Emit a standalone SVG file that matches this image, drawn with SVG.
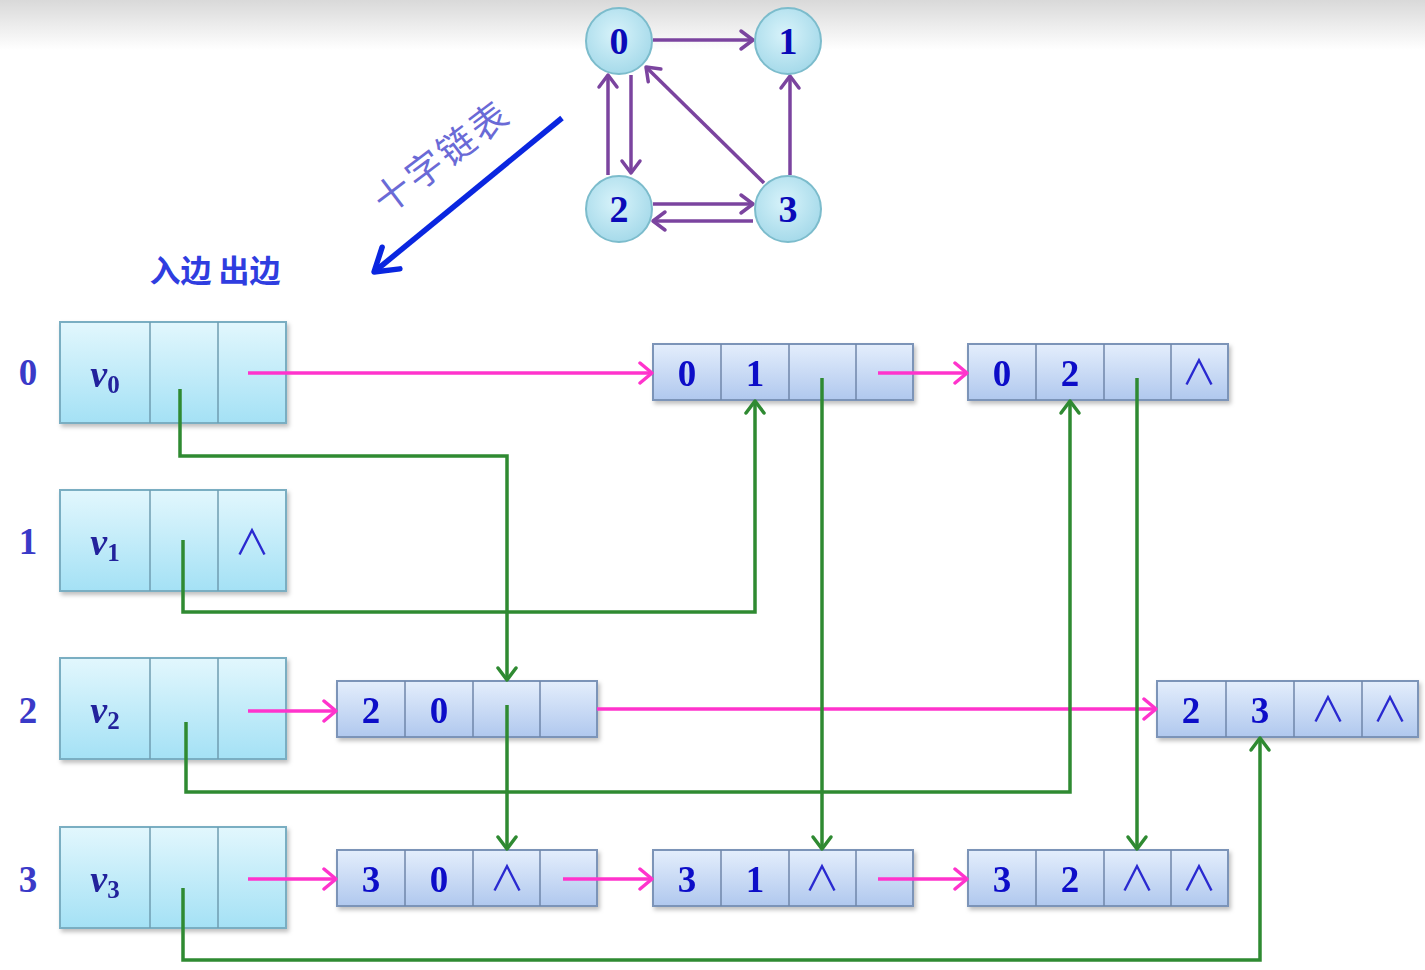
<svg xmlns="http://www.w3.org/2000/svg" width="1425" height="970" viewBox="0 0 1425 970">
<defs>
  <linearGradient id="topBand" x1="0" y1="0" x2="0" y2="1">
    <stop offset="0" stop-color="#d9d9d9"/>
    <stop offset="1" stop-color="#ffffff"/>
  </linearGradient>
  <radialGradient id="circFill" cx="0.45" cy="0.4" r="0.6">
    <stop offset="0" stop-color="#d8f3fa"/>
    <stop offset="1" stop-color="#a6daea"/>
  </radialGradient>
  <linearGradient id="vertFill" x1="0" y1="0" x2="0" y2="1">
    <stop offset="0" stop-color="#e2f7fd"/>
    <stop offset="1" stop-color="#a4e1f5"/>
  </linearGradient>
  <linearGradient id="edgeFill" x1="0" y1="0" x2="0" y2="1">
    <stop offset="0" stop-color="#e4eefc"/>
    <stop offset="1" stop-color="#b0c8ee"/>
  </linearGradient>
  <filter id="shadow" x="-10%" y="-10%" width="125%" height="135%">
    <feDropShadow dx="2" dy="3" stdDeviation="2" flood-color="#000000" flood-opacity="0.25"/>
  </filter>
  <marker id="mPink" viewBox="0 0 24 24" refX="21" refY="12" markerWidth="24" markerHeight="24" markerUnits="userSpaceOnUse" orient="auto">
    <path d="M9,2 L21,12 L9,22" fill="none" stroke="#ff33cc" stroke-width="3.5" stroke-linecap="round" stroke-linejoin="round"/>
  </marker>
  <marker id="mGreen" viewBox="0 0 24 24" refX="21" refY="12" markerWidth="24" markerHeight="24" markerUnits="userSpaceOnUse" orient="auto">
    <path d="M9,3 L21,12 L9,21" fill="none" stroke="#2f8a32" stroke-width="3.5" stroke-linecap="round" stroke-linejoin="round"/>
  </marker>
  <marker id="mPurple" viewBox="0 0 24 24" refX="21" refY="12" markerWidth="24" markerHeight="24" markerUnits="userSpaceOnUse" orient="auto">
    <path d="M9,3 L21,12 L9,21" fill="none" stroke="#7b449f" stroke-width="3.5" stroke-linecap="round" stroke-linejoin="round"/>
  </marker>
  <marker id="mBlue" viewBox="0 0 40 40" refX="36" refY="20" markerWidth="40" markerHeight="40" markerUnits="userSpaceOnUse" orient="auto">
    <path d="M14,6 L36,20 L14,34" fill="none" stroke="#0a26e0" stroke-width="5.5" stroke-linecap="round" stroke-linejoin="round"/>
  </marker>
</defs>
<style>
  .circ { fill: url(#circFill); stroke: #7cbccc; stroke-width: 2; }
  .vbox { fill: url(#vertFill); stroke: #7aaec2; stroke-width: 2; }
  .ebox { fill: url(#edgeFill); stroke: #7c94b8; stroke-width: 2; }
  .div { stroke: #6f9cb0; stroke-width: 1.5; }
  .ediv { stroke: #6f86aa; stroke-width: 1.5; }
  .num { font-family: "Liberation Serif", "Times New Roman", serif; font-weight: bold; font-size: 37px; fill: #0c0cc8; text-anchor: middle; }
  .gnum { font-family: "Liberation Serif", "Times New Roman", serif; font-weight: bold; font-size: 38px; fill: #0a0ab8; text-anchor: middle; }
  .row { font-family: "Liberation Serif", "Times New Roman", serif; font-weight: bold; font-size: 37px; fill: #3a3ac8; text-anchor: middle; }
  .nil { font-family: "Noto Sans CJK SC", "DejaVu Sans", sans-serif; font-weight: 400; font-size: 35px; fill: #2a2ad0; text-anchor: middle; }
  .vlab { font-family: "Liberation Serif", "Times New Roman", serif; font-weight: bold; font-size: 38px; fill: #22229c; text-anchor: middle; }
  .pink { fill: none; stroke: #ff33cc; stroke-width: 3.5; marker-end: url(#mPink); }
  .green { fill: none; stroke: #2f8a32; stroke-width: 3.5; marker-end: url(#mGreen); }
  .purple { fill: none; stroke: #7b449f; stroke-width: 3.5; marker-end: url(#mPurple); }
  .cjk { font-family: "Noto Sans CJK SC", sans-serif; }
</style>

<rect x="0" y="0" width="1425" height="970" fill="#ffffff"/>
<rect x="0" y="0" width="1425" height="50" fill="url(#topBand)"/>

<!-- graph -->
<g id="graph-edges">
  <line class="purple" x1="653" y1="40" x2="753" y2="40"/>
  <line class="purple" x1="608" y1="175" x2="608" y2="75"/>
  <line class="purple" x1="631" y1="75" x2="631" y2="173"/>
  <line class="purple" x1="764" y1="183" x2="646" y2="67"/>
  <line class="purple" x1="790" y1="175" x2="790" y2="76"/>
  <line class="purple" x1="653" y1="204" x2="753" y2="204"/>
  <line class="purple" x1="753" y1="221" x2="653" y2="221"/>
</g>
<g id="g0"><circle class="circ" cx="619" cy="41" r="33"/><text class="gnum" x="619" y="54">0</text></g>
<g id="g1"><circle class="circ" cx="788" cy="41" r="33"/><text class="gnum" x="788" y="54">1</text></g>
<g id="g2"><circle class="circ" cx="619" cy="209" r="33"/><text class="gnum" x="619" y="222">2</text></g>
<g id="g3"><circle class="circ" cx="788" cy="209" r="33"/><text class="gnum" x="788" y="222">3</text></g>

<!-- big arrow and label -->
<g id="transform-arrow">
  <line x1="562" y1="118" x2="374" y2="272" stroke="#0a26e0" stroke-width="5.5" marker-end="url(#mBlue)"/>
  <text class="cjk" x="442" y="170" font-size="37" fill="#6a6ad6" text-anchor="middle" letter-spacing="3" transform="rotate(-37 442 157)">十字链表</text>
</g>

<text class="cjk" x="215" y="282" font-size="31" font-weight="bold" fill="#2f3de0" text-anchor="middle">入边 出边</text>

<!-- row labels -->
<text class="row" x="28" y="385">0</text>
<text class="row" x="28" y="554">1</text>
<text class="row" x="28" y="723">2</text>
<text class="row" x="28" y="892">3</text>

<!-- vertex nodes -->
<g id="v0" filter="url(#shadow)">
  <rect class="vbox" x="60" y="322" width="226" height="101"/>
  <line class="div" x1="150" y1="322" x2="150" y2="423"/><line class="div" x1="218" y1="322" x2="218" y2="423"/>
  <text class="vlab" x="105" y="387"><tspan font-style="italic">v</tspan><tspan font-size="25" dy="6">0</tspan></text>
</g>
<g id="v1" filter="url(#shadow)">
  <rect class="vbox" x="60" y="490" width="226" height="101"/>
  <line class="div" x1="150" y1="490" x2="150" y2="591"/><line class="div" x1="218" y1="490" x2="218" y2="591"/>
  <text class="vlab" x="105" y="555"><tspan font-style="italic">v</tspan><tspan font-size="25" dy="6">1</tspan></text>
  <text class="nil" x="252" y="555">∧</text>
</g>
<g id="v2" filter="url(#shadow)">
  <rect class="vbox" x="60" y="658" width="226" height="101"/>
  <line class="div" x1="150" y1="658" x2="150" y2="759"/><line class="div" x1="218" y1="658" x2="218" y2="759"/>
  <text class="vlab" x="105" y="723"><tspan font-style="italic">v</tspan><tspan font-size="25" dy="6">2</tspan></text>
</g>
<g id="v3" filter="url(#shadow)">
  <rect class="vbox" x="60" y="827" width="226" height="101"/>
  <line class="div" x1="150" y1="827" x2="150" y2="928"/><line class="div" x1="218" y1="827" x2="218" y2="928"/>
  <text class="vlab" x="105" y="892"><tspan font-style="italic">v</tspan><tspan font-size="25" dy="6">3</tspan></text>
</g>

<!-- edge nodes -->
<g id="e01" filter="url(#shadow)">
  <rect class="ebox" x="653" y="344" width="260" height="56"/>
  <line class="ediv" x1="721" y1="344" x2="721" y2="400"/><line class="ediv" x1="789" y1="344" x2="789" y2="400"/><line class="ediv" x1="856" y1="344" x2="856" y2="400"/>
  <text class="num" x="687" y="386">0</text><text class="num" x="755" y="386">1</text>
</g>
<g id="e02" filter="url(#shadow)">
  <rect class="ebox" x="968" y="344" width="260" height="56"/>
  <line class="ediv" x1="1036" y1="344" x2="1036" y2="400"/><line class="ediv" x1="1104" y1="344" x2="1104" y2="400"/><line class="ediv" x1="1171" y1="344" x2="1171" y2="400"/>
  <text class="num" x="1002" y="386">0</text><text class="num" x="1070" y="386">2</text>
  <text class="nil" x="1199" y="385">∧</text>
</g>
<g id="e20" filter="url(#shadow)">
  <rect class="ebox" x="337" y="681" width="260" height="56"/>
  <line class="ediv" x1="405" y1="681" x2="405" y2="737"/><line class="ediv" x1="473" y1="681" x2="473" y2="737"/><line class="ediv" x1="540" y1="681" x2="540" y2="737"/>
  <text class="num" x="371" y="723">2</text><text class="num" x="439" y="723">0</text>
</g>
<g id="e23" filter="url(#shadow)">
  <rect class="ebox" x="1157" y="681" width="261" height="56"/>
  <line class="ediv" x1="1226" y1="681" x2="1226" y2="737"/><line class="ediv" x1="1294" y1="681" x2="1294" y2="737"/><line class="ediv" x1="1362" y1="681" x2="1362" y2="737"/>
  <text class="num" x="1191" y="723">2</text><text class="num" x="1260" y="723">3</text>
  <text class="nil" x="1328" y="722">∧</text><text class="nil" x="1390" y="722">∧</text>
</g>
<g id="e30" filter="url(#shadow)">
  <rect class="ebox" x="337" y="850" width="260" height="56"/>
  <line class="ediv" x1="405" y1="850" x2="405" y2="906"/><line class="ediv" x1="473" y1="850" x2="473" y2="906"/><line class="ediv" x1="540" y1="850" x2="540" y2="906"/>
  <text class="num" x="371" y="892">3</text><text class="num" x="439" y="892">0</text>
  <text class="nil" x="507" y="891">∧</text>
</g>
<g id="e31" filter="url(#shadow)">
  <rect class="ebox" x="653" y="850" width="260" height="56"/>
  <line class="ediv" x1="721" y1="850" x2="721" y2="906"/><line class="ediv" x1="789" y1="850" x2="789" y2="906"/><line class="ediv" x1="856" y1="850" x2="856" y2="906"/>
  <text class="num" x="687" y="892">3</text><text class="num" x="755" y="892">1</text>
  <text class="nil" x="822" y="891">∧</text>
</g>
<g id="e32" filter="url(#shadow)">
  <rect class="ebox" x="968" y="850" width="260" height="56"/>
  <line class="ediv" x1="1036" y1="850" x2="1036" y2="906"/><line class="ediv" x1="1104" y1="850" x2="1104" y2="906"/><line class="ediv" x1="1171" y1="850" x2="1171" y2="906"/>
  <text class="num" x="1002" y="892">3</text><text class="num" x="1070" y="892">2</text>
  <text class="nil" x="1137" y="891">∧</text><text class="nil" x="1199" y="891">∧</text>
</g>

<!-- connectors -->
<g id="connectors">
  <line class="pink" x1="248" y1="373" x2="652" y2="373"/>
  <line class="pink" x1="878" y1="373" x2="967" y2="373"/>
  <line class="pink" x1="248" y1="711" x2="336" y2="711"/>
  <line class="pink" x1="597" y1="709" x2="1156" y2="709"/>
  <line class="pink" x1="248" y1="879" x2="336" y2="879"/>
  <line class="pink" x1="563" y1="879" x2="652" y2="879"/>
  <line class="pink" x1="878" y1="879" x2="967" y2="879"/>
  <polyline class="green" points="180,389 180,456 507,456 507,680"/>
  <polyline class="green" points="183,540 183,612 755,612 755,401"/>
  <polyline class="green" points="186,722 186,792 1070,792 1070,401"/>
  <polyline class="green" points="183,888 183,960 1260,960 1260,738"/>
  <polyline class="green" points="507,705 507,849"/>
  <polyline class="green" points="822,378 822,849"/>
  <polyline class="green" points="1137,378 1137,849"/>
</g>
</svg>
